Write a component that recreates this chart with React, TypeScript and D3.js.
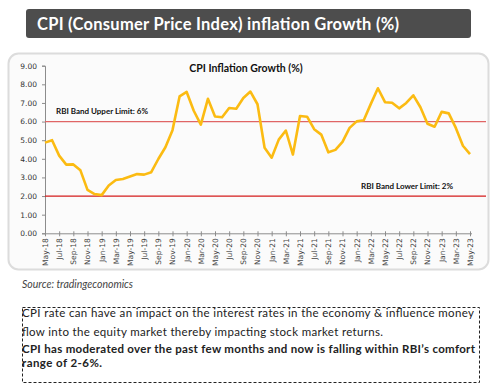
import * as d3 from "d3";
import React from "react";

// CPI inflation, monthly, May-18 .. May-23
const months = d3.timeMonth.range(new Date(2018, 4, 1), new Date(2023, 5, 1));
const cpiValues = [
  4.87, 5.0, 4.17, 3.69, 3.7, 3.38, 2.33, 2.11,
  2.05, 2.57, 2.86, 2.92, 3.05, 3.18, 3.15, 3.28, 3.99, 4.62, 5.54, 7.35,
  7.59, 6.58, 5.84, 7.22, 6.27, 6.23, 6.73, 6.69, 7.27, 7.61, 6.93, 4.59,
  4.06, 5.03, 5.52, 4.23, 6.3, 6.26, 5.59, 5.3, 4.35, 4.48, 4.91, 5.66,
  6.01, 6.07, 6.95, 7.79, 7.04, 7.01, 6.71, 7.0, 7.41, 6.77, 5.88, 5.72,
  6.52, 6.44, 5.66, 4.7, 4.25,
];
const yTicks = [0, 1, 2, 3, 4, 5, 6, 7, 8, 9];
const bands = [
  { value: 6, label: "RBI Band Upper Limit: 6%" },
  { value: 2, label: "RBI Band Lower Limit: 2%" },
];
const noteLines = [
  { text: "CPI rate can have an impact on the interest rates in the economy & influence money", bold: false, width: 452 },
  { text: "flow into the equity market thereby impacting stock market returns.", bold: false, width: 361 },
  { text: "CPI has moderated over the past few months and now is falling within RBI\u2019s comfort", bold: true, width: 453 },
  { text: "range of 2-6%.", bold: true, width: 80 },
];

const CAL = "Lato, 'Open Sans', sans-serif";
const AXF = "'DejaVu Sans', sans-serif";

export default function App() {
  const ref = React.useRef<SVGSVGElement>(null);

  React.useEffect(() => {
    if (!ref.current) return;
    const svg = d3.select(ref.current);
    svg.selectAll("*").remove();

    // title bar
    svg.append("rect")
      .attr("x", 26).attr("y", 9).attr("width", 445).attr("height", 29)
      .attr("rx", 3).attr("fill", "#4d4d4d");
    svg.append("text")
      .attr("x", 37).attr("y", 29.5)
      .attr("font-family", CAL).attr("font-weight", "bold").attr("font-size", 16.5)
      .attr("fill", "#fff")
      .attr("textLength", 362).attr("lengthAdjust", "spacing")
      .text("CPI (Consumer Price Index) inflation Growth (%)");

    // chart card
    svg.append("rect")
      .attr("x", 8.5).attr("y", 53.5).attr("width", 480).attr("height", 216)
      .attr("rx", 10).attr("fill", "#fbfbfb").attr("stroke", "#dcdcdc").attr("stroke-width", 2);

    const x = d3.scaleLinear().domain([0, months.length - 1]).range([45, 470]);
    const y = d3.scaleLinear().domain([0, 9]).range([233.3, 65.7]);

    svg.append("text")
      .attr("x", 246).attr("y", 72).attr("text-anchor", "middle")
      .attr("font-family", CAL).attr("font-weight", "bold").attr("font-size", 10.5)
      .attr("fill", "#111")
      .text("CPI Inflation Growth (%)");

    // y axis
    const yAxis = svg.append("g")
      .attr("transform", "translate(45,0)")
      .call(d3.axisLeft(y).tickValues(yTicks).tickSize(3).tickFormat((d) => d3.format(".2f")(d as number)));
    yAxis.select(".domain").attr("stroke", "#8c8c8c");
    yAxis.selectAll(".tick line").attr("stroke", "#8c8c8c");
    yAxis.selectAll(".tick text")
      .attr("x", -8).attr("font-family", AXF).attr("font-size", 7.5).attr("fill", "#333");

    // band lines
    bands.forEach((b, i) => {
      svg.append("line")
        .attr("x1", 45).attr("x2", 486)
        .attr("y1", y(b.value)).attr("y2", y(b.value))
        .attr("stroke", i === 0 ? "#e06565" : "#d41c1c").attr("stroke-width", 1.2);
    });
    svg.append("text")
      .attr("x", 56).attr("y", y(6) - 8)
      .attr("font-family", CAL).attr("font-weight", "bold").attr("font-size", 8)
      .attr("fill", "#111").text(bands[0].label);
    svg.append("text")
      .attr("x", 361).attr("y", y(2) - 7)
      .attr("font-family", CAL).attr("font-weight", "bold").attr("font-size", 8)
      .attr("fill", "#111").text(bands[1].label);

    // x axis
    const tickIdx = d3.range(0, months.length, 2);
    const xAxis = svg.append("g")
      .attr("transform", "translate(0,233.3)")
      .call(
        d3.axisBottom(x)
          .tickValues(tickIdx)
          .tickSize(3)
          .tickFormat((d) => d3.timeFormat("%b-%y")(months[d as number]))
      );
    xAxis.select(".domain").attr("stroke", "#8c8c8c").attr("d", "M45,0.5H472");
    xAxis.selectAll(".tick line").attr("stroke", "#8c8c8c").attr("y1", -2);
    xAxis.selectAll(".tick text")
      .attr("font-family", AXF).attr("font-size", 7.5).attr("fill", "#444")
      .attr("transform", "rotate(-90)")
      .attr("text-anchor", "end")
      .attr("x", -5).attr("y", 0).attr("dy", "0.32em");

    // CPI line
    const line = d3.line<number>()
      .x((_, i) => x(i))
      .y((d) => y(d))
      .curve(d3.curveLinear);
    svg.append("path")
      .datum(cpiValues)
      .attr("d", line)
      .attr("fill", "none")
      .attr("stroke", "#fbbb12")
      .attr("stroke-width", 2.6)
      .attr("stroke-linejoin", "round");

    // source
    svg.append("text")
      .attr("x", 22).attr("y", 288)
      .attr("font-family", CAL).attr("font-style", "italic").attr("font-size", 10.5)
      .attr("fill", "#444").text("Source: tradingeconomics");

    // note box
    svg.append("rect")
      .attr("x", 22.5).attr("y", 307.5).attr("width", 457).attr("height", 75)
      .attr("fill", "none").attr("stroke", "#222").attr("stroke-dasharray", "3,2");
    const lineY = [317, 336, 353, 367];
    noteLines.forEach((l, i) => {
      svg.append("text")
        .attr("x", 22).attr("y", lineY[i])
        .attr("font-family", CAL).attr("font-size", 11.5)
        .attr("font-weight", l.bold ? "bold" : "normal")
        .attr("fill", "#222")
        .attr("textLength", l.width).attr("lengthAdjust", "spacing")
        .text(l.text);
    });
  }, []);

  return (
    <svg
      ref={ref}
      width={493}
      height={391}
      style={{ position: "absolute", left: 0, top: 0, background: "#fff" }}
    />
  );
}
